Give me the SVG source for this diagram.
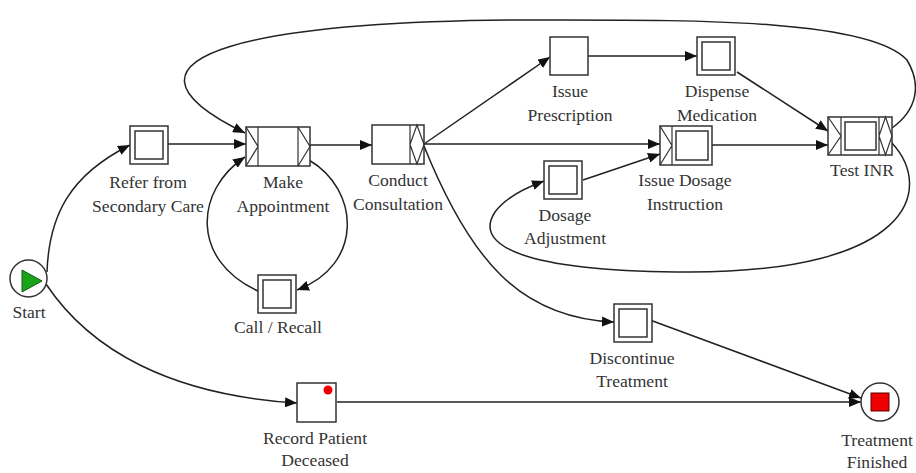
<svg xmlns="http://www.w3.org/2000/svg" width="916" height="473" viewBox="0 0 916 473">
  <defs>
    <style>
      .box{fill:#fff;stroke:#333;stroke-width:1.5}
      .deco{fill:none;stroke:#333;stroke-width:1.2}
      .edge{fill:none;stroke:#222;stroke-width:1.5}
      .lbl{font-size:17.6px;fill:#333;text-anchor:middle}
    </style>
    <marker id="arr" viewBox="0 0 12 10" refX="12" refY="5" markerWidth="12" markerHeight="10" markerUnits="userSpaceOnUse" orient="auto">
      <path d="M0,0 L12,5 L0,10 Z" fill="#111"/>
    </marker>
  </defs>
  <rect width="916" height="473" fill="#fff"/>

  <g id="connectors">
    <path class="edge" marker-end="url(#arr)" d="M47,272 C49,215 70,175 130,145"/>
    <path class="edge" marker-end="url(#arr)" d="M46,284 C90,350 170,395 297,403"/>
    <path class="edge" marker-end="url(#arr)" d="M168,144 L246,144"/>
    <path class="edge" marker-end="url(#arr)" d="M892,128 C917,110 922,85 907,60 C870,20 700,20 560,20 C260,18 85,55 245,133"/>
    <path class="edge" marker-end="url(#arr)" d="M310,145 L372,145"/>
    <path class="edge" marker-end="url(#arr)" d="M309,160 C360,190 364,265 297,290"/>
    <path class="edge" marker-end="url(#arr)" d="M258,291 C190,260 195,190 245,157"/>
    <path class="edge" marker-end="url(#arr)" d="M424,144 L550,57"/>
    <path class="edge" marker-end="url(#arr)" d="M424,144 L660,144"/>
    <path class="edge" marker-end="url(#arr)" d="M424,146 C470,260 520,318 614,322"/>
    <path class="edge" marker-end="url(#arr)" d="M588,56 L697,56"/>
    <path class="edge" marker-end="url(#arr)" d="M737,72 L828,131"/>
    <path class="edge" marker-end="url(#arr)" d="M712,145 L828,145"/>
    <path class="edge" marker-end="url(#arr)" d="M583,180 L660,154"/>
    <path class="edge" marker-end="url(#arr)" d="M892,143 C935,190 910,272 690,272 C540,272 470,250 495,212 C505,198 525,188 544,181"/>
    <path class="edge" marker-end="url(#arr)" d="M650,320 L861,398"/>
    <path class="edge" marker-end="url(#arr)" d="M337,402 L861,402"/>
  </g>

  <g font-family="'Liberation Serif', 'DejaVu Serif', 'Times New Roman', serif">
  <g id="start">
    <circle cx="28.5" cy="278.5" r="18.5" fill="#fff" stroke="#333" stroke-width="1.5"/>
    <path d="M22,270 L22,292 L42,281 Z" fill="#1aa31a" stroke="#0b5e0b" stroke-width="1"/>
    <text class="lbl" x="29" y="318">Start</text>
  </g>

  <g id="refer-from-secondary-care">
    <rect class="box" x="130" y="126" width="38" height="38"/>
    <rect class="box" x="135" y="131" width="28" height="28"/>
    <text class="lbl" x="148" y="188">Refer from</text>
    <text class="lbl" x="148" y="212">Secondary Care</text>
  </g>

  <g id="make-appointment">
    <rect class="box" x="246" y="127" width="64" height="39"/>
    <path class="deco" d="M258,127 V166 M298,127 V166 M246,127 L258,146.5 L246,166 M298,127 L310,146.5 L298,166"/>
    <text class="lbl" x="283" y="188">Make</text>
    <text class="lbl" x="283" y="212">Appointment</text>
  </g>

  <g id="call-recall">
    <rect class="box" x="258" y="275" width="38" height="38"/>
    <rect class="box" x="263" y="280" width="28" height="28"/>
    <text class="lbl" x="278" y="333">Call / Recall</text>
  </g>

  <g id="conduct-consultation">
    <rect class="box" x="372" y="125" width="52" height="39"/>
    <path class="deco" d="M410,125 V164 M417,125 L424,144.5 L417,164 L410,144.5 Z"/>
    <text class="lbl" x="398" y="186">Conduct</text>
    <text class="lbl" x="398" y="210">Consultation</text>
  </g>

  <g id="issue-prescription">
    <rect class="box" x="550" y="37" width="38" height="38"/>
    <text class="lbl" x="570" y="97">Issue</text>
    <text class="lbl" x="570" y="121">Prescription</text>
  </g>

  <g id="dispense-medication">
    <rect class="box" x="697" y="37" width="38" height="38"/>
    <rect class="box" x="702" y="42" width="28" height="28"/>
    <text class="lbl" x="717" y="97">Dispense</text>
    <text class="lbl" x="717" y="121">Medication</text>
  </g>

  <g id="issue-dosage-instruction">
    <rect class="box" x="660" y="126" width="52" height="39"/>
    <path class="deco" d="M672,126 V165 M660,126 L672,145.5 L660,165"/>
    <rect class="box" x="676" y="131" width="32" height="29"/>
    <text class="lbl" x="685" y="186">Issue Dosage</text>
    <text class="lbl" x="685" y="210">Instruction</text>
  </g>

  <g id="dosage-adjustment">
    <rect class="box" x="544" y="161" width="38" height="38"/>
    <rect class="box" x="549" y="166" width="28" height="28"/>
    <text class="lbl" x="565" y="221">Dosage</text>
    <text class="lbl" x="565" y="244">Adjustment</text>
  </g>

  <g id="test-inr">
    <rect class="box" x="828" y="117" width="64" height="38"/>
    <path class="deco" d="M841,117 V155 M879,117 V155 M828,117 L841,136 L828,155 M885.5,117 L892,136 L885.5,155 L879,136 Z"/>
    <rect class="box" x="845" y="122" width="31" height="28"/>
    <text class="lbl" x="862" y="176">Test INR</text>
  </g>

  <g id="discontinue-treatment">
    <rect class="box" x="614" y="304" width="38" height="38"/>
    <rect class="box" x="619" y="309" width="28" height="28"/>
    <text class="lbl" x="632" y="364">Discontinue</text>
    <text class="lbl" x="632" y="387">Treatment</text>
  </g>

  <g id="record-patient-deceased">
    <rect class="box" x="297" y="383" width="39" height="39"/>
    <circle cx="328" cy="390" r="4.5" fill="#e00"/>
    <text class="lbl" x="315" y="444">Record Patient</text>
    <text class="lbl" x="315" y="466">Deceased</text>
  </g>

  <g id="treatment-finished">
    <circle cx="880" cy="402" r="19" fill="#fff" stroke="#333" stroke-width="1.5"/>
    <rect x="871" y="393" width="18" height="18" fill="#e00" stroke="#600" stroke-width="1"/>
    <text class="lbl" x="877" y="446">Treatment</text>
    <text class="lbl" x="877" y="468">Finished</text>
  </g>
  </g>
</svg>
